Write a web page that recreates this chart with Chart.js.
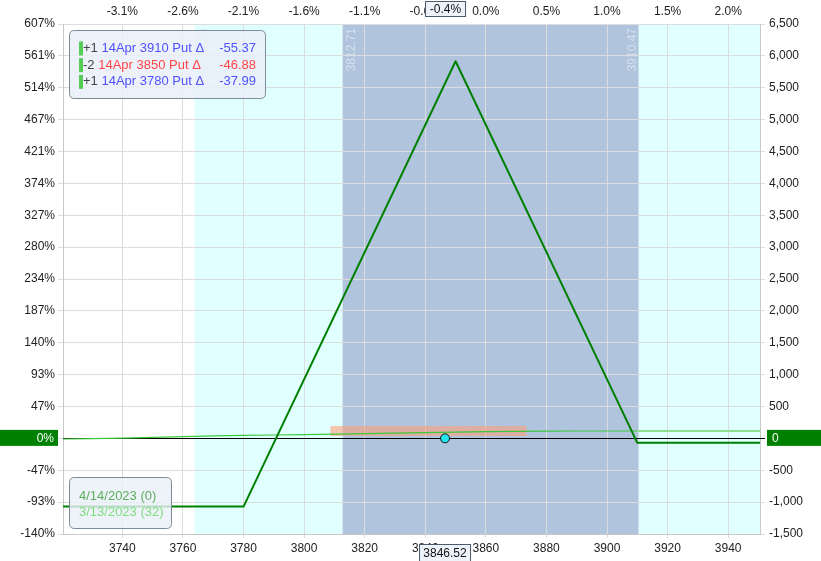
<!DOCTYPE html>
<html><head><meta charset="utf-8">
<script src="https://cdn.jsdelivr.net/npm/chart.js@4"></script>
<style>html,body{margin:0;padding:0;background:#fff;overflow:hidden}#wrap{width:821px;height:561px;position:relative}canvas{display:block}</style>
</head><body><div id="wrap"><canvas id="c" width="821" height="561" style="width:821px;height:561px"></canvas></div>
<script>
// ---- data ----
const xMin = 3720.4, xMax = 3950.5;
const xTickValues = [3740, 3760, 3780, 3800, 3820, 3840, 3860, 3880, 3900, 3920, 3940];
const pctTopLabels = ['-3.1%', '-2.6%', '-2.1%', '-1.6%', '-1.1%', '-0.6%', '0.0%', '0.5%', '1.0%', '1.5%', '2.0%'];
const yMin = -1500, yMax = 6500, yStep = 500;
const pctLeftLabels = ['-140%', '-93%', '-47%', '0%', '47%', '93%', '140%', '187%', '234%', '280%', '327%', '374%', '421%', '467%', '514%', '561%', '607%'];

const expiryPrices = [3720.4, 3780, 3850, 3910, 3950.5];
const expiryPL = [-1070, -1070, 5915, -70, -70];

const t0Prices = [3720.4, 3740, 3760, 3780, 3800, 3820, 3840, 3860, 3880, 3900, 3910, 3920, 3950.5];
const t0PL = [-10, 5, 28, 48, 58, 74, 90, 105, 114, 116, 116, 117, 117];

const currentPrice = 3846.52;
const currentPctLabel = '-0.4%';
const bandEdges = [3763.84, 3812.71, 3910.47];
const rangeBox = { x0: 3808.7, x1: 3873.4, y0: 37, y1: 194 };

const legQty = ['+1', '-2', '+1'];
const legNames = ['14Apr 3910 Put \u0394', '14Apr 3850 Put \u0394', '14Apr 3780 Put \u0394'];
const legDeltas = ['-55.37', '-46.88', '-37.99'];
const dateLabels = ['4/14/2023 (0)', '3/13/2023 (32)'];

// ---- styles ----
const CYAN = '#e0ffff', BLUE = '#b0c4de', GRID = '#dcdcdc';
const FONT = '"Liberation Sans", Arial, sans-serif';

function rr(ctx, x, y, w, h, r) {
  ctx.beginPath();
  ctx.moveTo(x + r, y); ctx.lineTo(x + w - r, y); ctx.quadraticCurveTo(x + w, y, x + w, y + r);
  ctx.lineTo(x + w, y + h - r); ctx.quadraticCurveTo(x + w, y + h, x + w - r, y + h);
  ctx.lineTo(x + r, y + h); ctx.quadraticCurveTo(x, y + h, x, y + h - r);
  ctx.lineTo(x, y + r); ctx.quadraticCurveTo(x, y, x + r, y); ctx.closePath();
}

const plug = {
  id: 'deco',
  beforeDraw(chart) {
    const { ctx, chartArea: a, scales: { x } } = chart;
    ctx.save();
    ctx.fillStyle = '#fff'; ctx.fillRect(0, 0, chart.width, chart.height);
    const p = v => x.getPixelForValue(v);
    ctx.beginPath(); ctx.rect(a.left, a.top, a.right - a.left, a.bottom - a.top); ctx.clip();
    ctx.fillStyle = CYAN; ctx.fillRect(p(bandEdges[0]), a.top, p(bandEdges[1]) - p(bandEdges[0]), a.bottom - a.top);
    ctx.fillStyle = BLUE; ctx.fillRect(p(bandEdges[1]), a.top, p(bandEdges[2]) - p(bandEdges[1]), a.bottom - a.top);
    ctx.fillStyle = CYAN; ctx.fillRect(p(bandEdges[2]), a.top, a.right - p(bandEdges[2]), a.bottom - a.top);
    ctx.restore();
  },
  beforeDatasetsDraw(chart) {
    const { ctx, chartArea: a, scales: { x, y } } = chart;
    ctx.save();
    ctx.font = '12px ' + FONT; ctx.fillStyle = '#d6e0ee';
    ctx.textAlign = 'right'; ctx.textBaseline = 'middle';
    bandEdges.forEach(v => {
      const lx = x.getPixelForValue(v) + (v > currentPrice ? -6.5 : 9);
      ctx.save(); ctx.translate(lx, a.top + 4); ctx.rotate(-Math.PI / 2);
      ctx.fillText(v.toFixed(2), 0, 0); ctx.restore();
    });
    ctx.fillStyle = 'rgba(255,160,122,0.6)';
    const bx0 = x.getPixelForValue(rangeBox.x0), bx1 = x.getPixelForValue(rangeBox.x1);
    const by0 = y.getPixelForValue(rangeBox.y1), by1 = y.getPixelForValue(rangeBox.y0);
    ctx.fillRect(bx0, by0, bx1 - bx0, by1 - by0);
    const zy = Math.round(y.getPixelForValue(0)) + 0.5;
    ctx.strokeStyle = '#000'; ctx.lineWidth = 1;
    ctx.beginPath(); ctx.moveTo(a.left, zy); ctx.lineTo(a.right + 5, zy); ctx.stroke();
    ctx.restore();
  },
  afterDraw(chart) {
    const { ctx, chartArea: a, scales: { x, y } } = chart;
    ctx.save();
    const zy = y.getPixelForValue(0);
    ctx.font = '12px ' + FONT; ctx.textBaseline = 'middle';
    ctx.fillStyle = '#008000';
    ctx.fillRect(0, zy - 8.5, 58, 16);
    ctx.fillRect(767, zy - 8.5, 54, 16);
    ctx.fillStyle = '#fff';
    ctx.textAlign = 'right'; ctx.fillText(pctLeftLabels[3], 54, zy);
    ctx.textAlign = 'left'; ctx.fillText('0', 772, zy);
    const cx = x.getPixelForValue(currentPrice);
    ctx.textAlign = 'center';
    ctx.fillStyle = '#eef3fa'; ctx.strokeStyle = '#4a5a6a'; ctx.lineWidth = 1;
    ctx.fillRect(cx - 19.5, 1.5, 40, 15); ctx.strokeRect(cx - 19.5, 1.5, 40, 15);
    ctx.fillStyle = '#111'; ctx.fillText(currentPctLabel, cx + 0.5, 9.5);
    ctx.fillStyle = '#eef3fa';
    ctx.fillRect(cx - 25.5, 544.5, 51, 17); ctx.strokeRect(cx - 25.5, 544.5, 51, 17);
    ctx.fillStyle = '#111'; ctx.fillText(currentPrice.toFixed(2), cx, 553.5);
    ctx.font = '13px ' + FONT;
    rr(ctx, 69.5, 30.5, 196, 68, 5);
    ctx.fillStyle = 'rgba(234,240,249,0.85)'; ctx.fill();
    ctx.strokeStyle = '#7d8a98'; ctx.stroke();
    legQty.forEach((q, i) => {
      const cy = 48.5 + i * 16.7;
      ctx.fillStyle = '#55cc55'; ctx.fillRect(79, cy - 7, 4, 14);
      ctx.textAlign = 'left';
      ctx.fillStyle = '#444'; ctx.fillText(q, 83, cy);
      const w = ctx.measureText(q + ' ').width;
      const col = q.startsWith('-') ? '#ff4545' : '#5050ff';
      ctx.fillStyle = col; ctx.fillText(legNames[i], 83 + w, cy);
      ctx.textAlign = 'right'; ctx.fillText(legDeltas[i], 256, cy);
    });
    rr(ctx, 69.5, 477.5, 102, 51, 5);
    ctx.fillStyle = 'rgba(234,240,249,0.8)'; ctx.fill();
    ctx.strokeStyle = '#7d8a98'; ctx.stroke();
    ctx.textAlign = 'left';
    ctx.fillStyle = '#5cae5c'; ctx.fillText(dateLabels[0], 79, 496);
    ctx.fillStyle = '#80de80'; ctx.fillText(dateLabels[1], 79, 512.5);
    ctx.restore();
  }
};

Chart.defaults.font.family = FONT;
Chart.defaults.font.size = 12;
Chart.defaults.color = '#222';

const xy = (xs, ys) => xs.map((v, i) => ({ x: v, y: ys[i] }));
const upperEdge = bandEdges[2];

new Chart(document.getElementById('c'), {
  type: 'line',
  data: {
    datasets: [
      { data: [{ x: currentPrice, y: 0 }], showLine: false, pointRadius: 4.5, pointBackgroundColor: '#22e6ee', pointBorderColor: '#111', pointBorderWidth: 1 },
      { data: xy(expiryPrices, expiryPL), borderColor: '#008000', borderWidth: 2, pointRadius: 0, tension: 0, borderJoinStyle: 'round' },
      { data: xy(t0Prices, t0PL), borderColor: '#3cc83c', borderWidth: 1.2, pointRadius: 0, tension: 0.3,
        segment: {
          borderColor: c => c.p0.parsed.x >= upperEdge - 1 ? '#8ee08e' : undefined,
          borderWidth: c => c.p0.parsed.x >= upperEdge - 1 ? 2 : undefined
        } }
    ]
  },
  options: {
    responsive: false, maintainAspectRatio: false, animation: false, devicePixelRatio: 1,
    layout: { padding: 0 },
    plugins: { legend: { display: false }, tooltip: { enabled: false } },
    scales: {
      x: {
        type: 'linear', position: 'bottom', min: xMin, max: xMax,
        afterBuildTicks: s => { s.ticks = xTickValues.map(v => ({ value: v })); },
        afterFit: s => { s.height = 27; },
        ticks: { autoSkip: false, maxRotation: 0, padding: 3, callback: v => String(v) },
        grid: { color: GRID, tickLength: 4 },
        border: { color: '#c8c8c8' }
      },
      x2: {
        type: 'linear', position: 'top', min: xMin, max: xMax,
        afterBuildTicks: s => { s.ticks = xTickValues.map(v => ({ value: v })); },
        afterFit: s => { s.height = 24; },
        ticks: { autoSkip: false, maxRotation: 0, padding: 5, callback: (v, i) => pctTopLabels[i] },
        grid: { drawOnChartArea: false, drawTicks: false },
        border: { color: GRID }
      },
      y: {
        type: 'linear', position: 'right', min: yMin, max: yMax,
        afterFit: s => { s.width = 61; },
        ticks: { stepSize: yStep, autoSkip: false, padding: 4, callback: v => v.toLocaleString('en-US') },
        grid: { color: GRID, tickLength: 5 },
        border: { color: '#c8c8c8' }
      },
      y2: {
        type: 'linear', position: 'left', min: yMin, max: yMax,
        afterFit: s => { s.width = 63; },
        ticks: { stepSize: yStep, autoSkip: false, padding: 3, callback: (v, i) => pctLeftLabels[i] },
        grid: { drawOnChartArea: false, color: GRID, tickLength: 5 },
        border: { color: '#c8c8c8' }
      }
    }
  },
  plugins: [plug]
});
</script></body></html>
